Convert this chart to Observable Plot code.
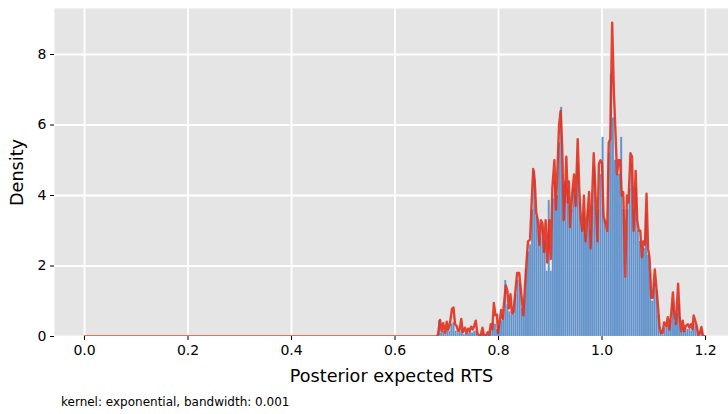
<!DOCTYPE html>
<html>
<head>
<meta charset="utf-8">
<script src="https://cdn.jsdelivr.net/npm/d3@7"></script>
<script src="https://cdn.jsdelivr.net/npm/@observablehq/plot@0.6"></script>
<style>
  html, body { margin: 0; padding: 0; background: #ffffff; }
  #chart { width: 728px; height: 414px; position: relative; font-family: "DejaVu Sans", sans-serif; }
  #chart svg g[aria-label$="tick label"] text { font-size: 14px; fill: #000; }
  #chart svg g[aria-label$="axis label"] text { font-size: 17.6px; fill: #000; }
  #caption { position: absolute; left: 61px; top: 395px; font-size: 12px; line-height: 14px; color: #000; }
</style>
</head>
<body>
<div id="chart"></div>
<script>
// Histogram of posterior expected RTS: bins of equal width starting at binStart
const binStart = 0.684;
const binWidth = 0.004;
const binDensity = [
  0.45, 0.10, 0.15, 0.05, 0.20, 0.15, 0.35, 0.40, 0.15, 0.10,
  0.15, 0.20, 0.05, 0.10, 0.10, 0.15, 0.10, 0.15, 0.15, 0.00,
  0.05, 0.10, 0.00, 0.05, 0.05, 0.15, 0.40, 0.35, 0.20, 0.30,
  0.45, 0.60, 1.59, 0.90, 0.70, 0.60, 0.75, 1.20, 1.60, 1.50,
  0.80, 1.00, 1.90, 2.40, 2.60, 3.60, 4.70, 3.40, 3.00, 2.80,
  3.00, 2.70, 1.85, 3.86, 1.85, 3.90, 4.40, 4.00, 5.50, 6.50,
  4.30, 4.40, 4.20, 3.70, 3.60, 4.20, 4.00, 4.90, 3.80, 3.10,
  3.50, 2.90, 3.60, 3.00, 3.70, 4.80, 3.50, 3.60, 4.60, 5.65,
  3.30, 3.00, 5.20, 7.45, 6.20, 5.00, 4.60, 4.60, 5.65, 3.60,
  1.70, 3.60, 4.20, 4.90, 3.60, 4.20, 3.00, 2.70, 2.40, 2.50,
  3.50, 2.30, 1.80, 1.00, 1.50, 1.30, 0.60, 0.15, 0.05, 0.25,
  0.30, 0.30, 0.45, 0.95, 0.40, 0.65, 0.90, 0.15, 0.25, 0.15,
  0.20, 0.20, 0.15, 0.35, 0.30, 0.05, 0.10, 0.15, 0.00
];

// Kernel density estimate (exponential kernel, bandwidth 0.001): vertices of the curve
const kdeX = [
  0.000, 0.680, 0.683, 0.687, 0.690, 0.693, 0.697, 0.700, 0.703, 0.706,
  0.710, 0.713, 0.716, 0.719, 0.722, 0.725, 0.728, 0.731, 0.735, 0.738,
  0.741, 0.744, 0.747, 0.750, 0.753, 0.756, 0.759, 0.762, 0.765, 0.769,
  0.772, 0.776, 0.779, 0.782, 0.785, 0.788, 0.791, 0.794, 0.797, 0.799,
  0.802, 0.805, 0.808, 0.811, 0.814, 0.817, 0.820, 0.823, 0.826, 0.829,
  0.832, 0.836, 0.840, 0.844, 0.848, 0.851, 0.854, 0.857, 0.861, 0.864,
  0.867, 0.870, 0.873, 0.876, 0.879, 0.882, 0.885, 0.888, 0.891, 0.894,
  0.898, 0.901, 0.904, 0.908, 0.911, 0.914, 0.917, 0.920, 0.923, 0.926,
  0.929, 0.931, 0.934, 0.936, 0.938, 0.942, 0.946, 0.949, 0.953, 0.956,
  0.959, 0.962, 0.965, 0.968, 0.972, 0.975, 0.978, 0.981, 0.984, 0.987,
  0.991, 0.994, 0.997, 1.000, 1.003, 1.007, 1.010, 1.013, 1.016, 1.0196,
  1.023, 1.026, 1.029, 1.032, 1.035, 1.038, 1.041, 1.045, 1.048, 1.051,
  1.055, 1.058, 1.061, 1.065, 1.068, 1.071, 1.074, 1.077, 1.080, 1.083,
  1.086, 1.089, 1.092, 1.095, 1.098, 1.102, 1.105, 1.108, 1.111, 1.114,
  1.117, 1.120, 1.124, 1.127, 1.130, 1.134, 1.137, 1.140, 1.143, 1.147,
  1.150, 1.153, 1.156, 1.159, 1.162, 1.166, 1.169, 1.172, 1.175, 1.177,
  1.180, 1.183, 1.186, 1.189, 1.192, 1.195, 1.200
];
const kdeY = [
  0.00, 0.00, 0.05, 0.47, 0.15, 0.38, 0.10, 0.42, 0.20, 0.35,
  0.78, 0.82, 0.35, 0.30, 0.15, 0.20, 0.50, 0.12, 0.25, 0.10,
  0.22, 0.15, 0.28, 0.20, 0.30, 0.45, 0.10, 0.02, 0.00, 0.25,
  0.02, 0.02, 0.12, 0.05, 0.35, 0.20, 0.95, 0.60, 0.62, 0.10,
  0.40, 0.75, 0.50, 1.00, 1.45, 1.30, 0.80, 1.20, 0.65, 0.70,
  1.20, 1.80, 1.80, 1.20, 0.60, 1.40, 2.10, 2.70, 2.75, 3.80,
  4.75, 4.40, 3.50, 3.30, 2.60, 3.30, 3.20, 2.40, 3.30, 2.10,
  3.30, 2.20, 4.20, 5.00, 3.60, 4.80, 6.00, 6.40, 5.40, 3.30,
  4.20, 5.10, 3.80, 4.40, 3.10, 4.00, 4.60, 3.70, 5.60, 4.20,
  3.30, 3.00, 4.00, 2.70, 3.50, 4.10, 2.50, 4.00, 5.20, 4.20,
  2.70, 4.90, 5.00, 4.90, 3.40, 3.20, 3.00, 5.50, 5.60, 8.90,
  6.90, 5.80, 4.60, 5.00, 5.00, 4.00, 4.10, 1.70, 4.00, 3.80,
  5.20, 5.10, 3.00, 4.70, 3.30, 3.00, 3.00, 2.25, 2.70, 2.60,
  4.05, 2.50, 2.20, 1.10, 1.10, 1.90, 1.40, 0.90, 0.30, 0.10,
  0.10, 0.40, 0.30, 0.55, 0.20, 0.70, 1.25, 0.60, 0.35, 1.50,
  0.55, 0.15, 0.45, 0.15, 0.30, 0.35, 0.25, 0.35, 0.20, 0.60,
  0.45, 0.30, 0.05, 0.10, 0.27, 0.02, 0.00
];

const xTicks = [0, 0.2, 0.4, 0.6, 0.8, 1.0, 1.2];
const yTicks = [0, 2, 4, 6, 8];

const bins = binDensity.map((d, i) => ({
  x1: binStart + i * binWidth,
  x2: binStart + (i + 1) * binWidth,
  density: d
}));
const kde = kdeX.map((x, i) => ({x, y: kdeY[i]}));

const chart = Plot.plot({
  width: 728,
  height: 390,
  marginLeft: 54,
  marginRight: 0,
  marginTop: 8,
  marginBottom: 54,
  style: {fontFamily: "DejaVu Sans, sans-serif", color: "#000", background: "#ffffff"},
  x: {domain: [-0.058, 1.2444]},
  y: {domain: [0, 9.305]},
  marks: [
    Plot.frame({fill: "#e5e5e5", stroke: null}),
    Plot.gridX(xTicks, {stroke: "#ffffff", strokeOpacity: 1, strokeWidth: 1.8}),
    Plot.gridY(yTicks, {stroke: "#ffffff", strokeOpacity: 1, strokeWidth: 1.8}),
    Plot.rectY(bins, {
      x1: "x1", x2: "x2", y: "density",
      fill: "#6192cb", stroke: "#ffffff", strokeOpacity: 0.18, strokeWidth: 0.5
    }),
    // the density curve is clipped to the panel, so its flat zero stretch shows as a thin edge
    Plot.line(kde, {x: "x", y: "y", stroke: "#e2301d", strokeWidth: 2.4, strokeOpacity: 0.9, clip: true}),
    Plot.axisX(xTicks, {
      tickFormat: d3.format(".1f"), tickSize: 4, tickPadding: 5,
      label: "Posterior expected RTS", labelAnchor: "center", labelOffset: 45, labelArrow: "none"
    }),
    Plot.axisY(yTicks, {
      tickSize: 4, tickPadding: 4,
      label: "Density", labelAnchor: "center", labelOffset: 44, labelArrow: "none"
    })
  ]
});

const root = document.getElementById("chart");
root.appendChild(chart);
const cap = document.createElement("div");
cap.id = "caption";
cap.textContent = "kernel: exponential, bandwidth: 0.001";
root.appendChild(cap);
</script>
</body>
</html>
